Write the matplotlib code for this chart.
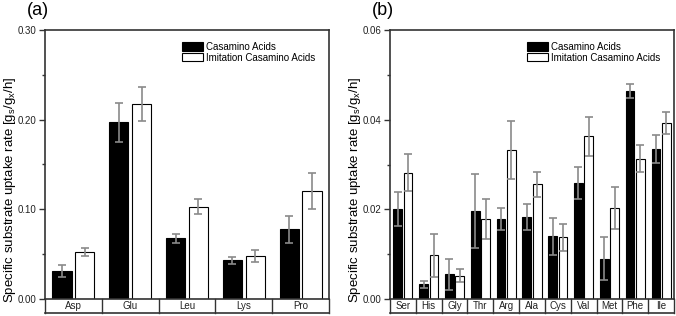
import matplotlib
matplotlib.use("Agg")
import matplotlib.pyplot as plt
import matplotlib.transforms as mtransforms
from matplotlib.patches import Patch
import numpy as np

plt.rcParams['font.family'] = ['Liberation Sans', 'DejaVu Sans']
plt.rcParams['mathtext.fontset'] = 'custom'
plt.rcParams['mathtext.rm'] = 'Liberation Sans'
plt.rcParams['mathtext.it'] = 'Liberation Sans'

############## Data
amino_a = ["Asp", "Glu", "Leu", "Lys", "Pro"]
casa_a = [0.031, 0.197, 0.068, 0.043, 0.078]
casa_a_err = [0.007, 0.022, 0.005, 0.004, 0.015]
imit_a = [0.052, 0.217, 0.103, 0.048, 0.120]
imit_a_err = [0.0045, 0.019, 0.0087, 0.0063, 0.020]

amino_b = ["Ser", "His", "Gly", "Thr", "Arg", "Ala", "Cys", "Val", "Met", "Phe", "Ile"]
casa_b = [0.0200, 0.0033, 0.0055, 0.0196, 0.0178, 0.0183, 0.0140, 0.0259, 0.0090, 0.0464, 0.0335]
casa_b_err = [0.0038, 0.0008, 0.0035, 0.0082, 0.0024, 0.0028, 0.0041, 0.0035, 0.0048, 0.0016, 0.0031]
imit_b = [0.0282, 0.0098, 0.0052, 0.0178, 0.0332, 0.0256, 0.0138, 0.0363, 0.0203, 0.0313, 0.0392]
imit_b_err = [0.0041, 0.0048, 0.0014, 0.0044, 0.0065, 0.0028, 0.0030, 0.0043, 0.0047, 0.0030, 0.0025]

ylabel = r'Specific substrate uptake rate [g$_{s}$/g$_{x}$/h]'
frame_col = '#333333'


def panel(ax, names, casa, casa_err, imit, imit_err, ymax, major, minor, tag):
    n = len(names)
    x = np.arange(n)
    w = 0.34
    off = 0.2
    ax.bar(x - off, casa, w, color='black', edgecolor='black', linewidth=0.8, zorder=2)
    ax.bar(x + off, imit, w, color='white', edgecolor='black', linewidth=0.8, zorder=2)
    ax.errorbar(x - off, casa, yerr=casa_err, fmt='none', ecolor='#8a8a8a',
                elinewidth=1.2, capsize=3, capthick=1.2, zorder=3)
    ax.errorbar(x + off, imit, yerr=imit_err, fmt='none', ecolor='#8a8a8a',
                elinewidth=1.2, capsize=3, capthick=1.2, zorder=3)
    ax.set_xlim(-0.5, n - 0.5)
    ax.set_ylim(0, ymax)
    ax.set_yticks(np.arange(0, ymax + major / 2, major))
    ax.set_yticks(np.arange(0, ymax + minor / 2, minor), minor=True)
    ax.yaxis.set_major_formatter(plt.FormatStrFormatter('%.2f'))
    ax.tick_params(axis='y', which='major', direction='out', length=4, width=1,
                   color=frame_col, labelsize=7, labelcolor='#222222', pad=2)
    ax.tick_params(axis='y', which='minor', direction='out', length=2.5, width=1, color=frame_col)
    ax.set_xticks([])
    for s in ax.spines.values():
        s.set_color(frame_col)
        s.set_linewidth(1.2)
    ax.set_ylabel(ylabel, fontsize=9.5)
    ax.yaxis.set_label_coords(-0.095, 0.405)

    # category label boxes under the axis
    trans = mtransforms.blended_transform_factory(ax.transData, ax.transAxes)
    h = 14.0 / 269.0
    ax.plot([-0.5, n - 0.5], [-h, -h], color=frame_col, lw=1.2, transform=trans, clip_on=False)
    for b in np.arange(-0.5, n, 1.0):
        ax.plot([b, b], [0, -h], color=frame_col, lw=1.0, transform=trans, clip_on=False)
    for i, name in enumerate(names):
        ax.text(i, -h / 2, name, transform=trans, ha='center', va='center', fontsize=7, color='#222222')

    ax.text(-0.063, 1.104, tag, transform=ax.transAxes, fontsize=13, ha='left', va='top')

    handles = [Patch(facecolor='black', edgecolor='black', lw=0.8, label='Casamino Acids'),
               Patch(facecolor='white', edgecolor='black', lw=0.8, label='Imitation Casamino Acids')]
    ax.legend(handles=handles, loc='upper right', bbox_to_anchor=(0.98, 0.985), frameon=False,
              fontsize=7, handlelength=2.2, handleheight=0.95, labelspacing=0.08,
              handletextpad=0.35, borderpad=0.3)


fig = plt.figure(figsize=(6.76, 3.16), dpi=100)
ax1 = fig.add_axes([45 / 676, 17 / 316, 284 / 676, 269 / 316])
ax2 = fig.add_axes([390 / 676, 17 / 316, 284 / 676, 269 / 316])

panel(ax1, amino_a, casa_a, casa_a_err, imit_a, imit_a_err, 0.30, 0.10, 0.05, '(a)')
panel(ax2, amino_b, casa_b, casa_b_err, imit_b, imit_b_err, 0.06, 0.02, 0.01, '(b)')

fig.savefig("out.png", dpi=100)
